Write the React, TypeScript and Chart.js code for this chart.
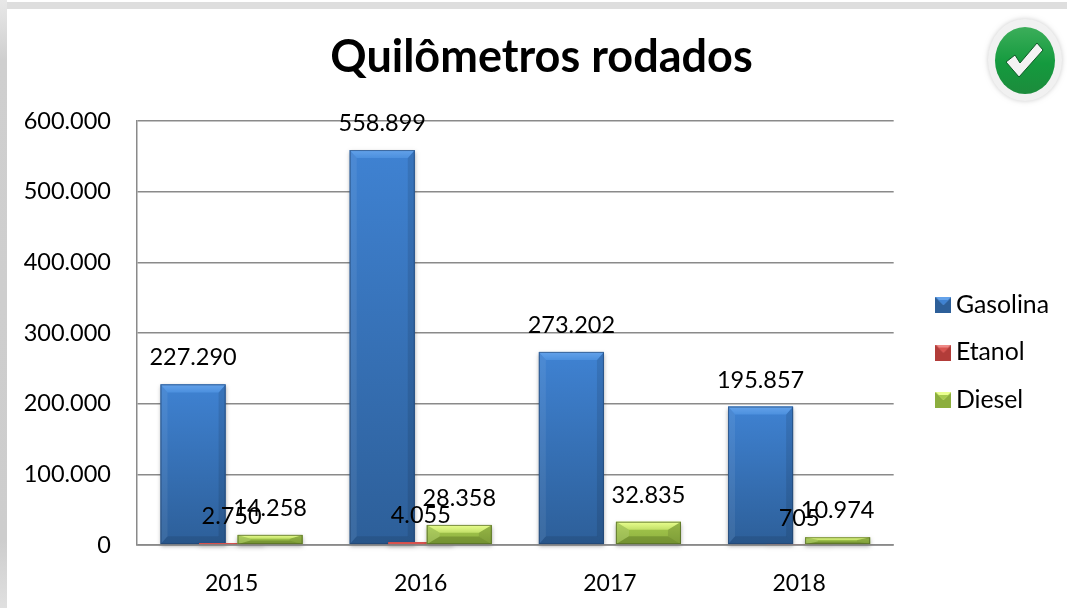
import React, { useEffect, useRef } from "react";
import { Chart, registerables } from "chart.js";

Chart.register(...registerables);

const categories = ["2015", "2016", "2017", "2018"];
const gasolina = [227290, 558899, 273202, 195857];
const etanol = [2750, 4055, null, 705];
const diesel = [14258, 28358, 32835, 10974];
const yTicks = [0, 100000, 200000, 300000, 400000, 500000, 600000];

const FONT = 'Lato, sans-serif';
const OFFSET_X = 7;
const OFFSET_Y = 9;
const PALETTE = [
  { ex: 7, face: ["#3f82d2", "#2d5f99"], top: ["#64a2ea", "#4c90de"], left: "rgba(255,255,255,0.07)", right: "rgba(0,0,0,0.10)", bottom: "rgba(0,0,0,0.10)", edge: "rgba(30,60,100,0.55)" },
  { ex: 7, face: ["#d9534f", "#b23c39"], top: ["#ee8a87", "#e06a66"], left: "rgba(255,255,255,0.07)", right: "rgba(0,0,0,0.10)", bottom: "rgba(0,0,0,0.10)", edge: "rgba(120,30,30,0.55)" },
  { ex: 13, face: ["#a6ca4e", "#8cae3e"], top: ["#eaff90", "#c2e068"], left: "rgba(255,255,255,0.10)", right: "rgba(0,0,0,0.10)", bottom: "rgba(60,80,20,0.30)", edge: "rgba(70,90,30,0.65)" },
];

const fmt = (v: number) => v.toString().replace(/\B(?=(\d{3})+(?!\d))/g, ".");

function poly(c: CanvasRenderingContext2D, pts: number[][], fill: any) {
  c.beginPath();
  pts.forEach(([x, y], i) => (i ? c.lineTo(x, y) : c.moveTo(x, y)));
  c.closePath();
  c.fillStyle = fill;
  c.fill();
}

function bevelBar(c: CanvasRenderingContext2D, l: number, t: number, r: number, b: number, p: typeof PALETTE[0]) {
  const h = b - t;
  c.save();
  c.shadowColor = "rgba(0,0,0,0.35)";
  c.shadowBlur = 4;
  c.shadowOffsetY = 2;
  c.fillStyle = p.face[1];
  c.fillRect(l, t, r - l, h);
  c.restore();
  if (h < 4) {
    c.fillStyle = p.face[0];
    c.fillRect(l, t, r - l, h);
    return;
  }
  const ey = Math.min(8, h * 0.4);
  const ex = p.ex;
  const g = c.createLinearGradient(0, t, 0, b);
  g.addColorStop(0, p.face[0]);
  g.addColorStop(1, p.face[1]);
  c.fillStyle = g;
  c.fillRect(l, t, r - l, h);
  poly(c, [[l, t], [l + ex, t + ey], [l + ex, b - ey], [l, b]], p.left);
  poly(c, [[r, t], [r - ex, t + ey], [r - ex, b - ey], [r, b]], p.right);
  poly(c, [[l, b], [l + ex, b - ey], [r - ex, b - ey], [r, b]], p.bottom);
  const tg = c.createLinearGradient(0, t, 0, t + ey);
  tg.addColorStop(0, p.top[0]);
  tg.addColorStop(1, p.top[1]);
  poly(c, [[l, t], [r, t], [r - ex, t + ey], [l + ex, t + ey]], tg);
  c.strokeStyle = p.edge;
  c.lineWidth = 1;
  c.strokeRect(l + 0.5, t + 0.5, r - l - 1, h - 1);
}

const bevelPlugin = {
  id: "bevel",
  afterLayout(chart: any) {
    chart.legend.left += 27;
    chart.legend.right += 27;
    chart.legend.top += 44;
    chart.legend.bottom += 44;
    chart.titleBlock.left += 22;
    chart.titleBlock.right += 22;
  },
  beforeDatasetsDraw(chart: any) {
    const c = chart.ctx;
    const area = chart.chartArea;
    chart.data.datasets.forEach((_: any, di: number) => {
      const meta = chart.getDatasetMeta(di);
      meta.data.forEach((el: any, i: number) => {
        if (chart.data.datasets[di].data[i] == null) return;
        const { x, y, base, width } = el.getProps(["x", "y", "base", "width"], true);
        bevelBar(c, x - width / 2, y, x + width / 2, base, PALETTE[di]);
      });
    });
    c.beginPath();
    c.moveTo(area.left, area.bottom);
    c.lineTo(area.right, area.bottom);
    c.strokeStyle = "#8a8a8a";
    c.lineWidth = 1.5;
    c.stroke();
    c.fillStyle = "#000";
    c.font = `23.5px ${FONT}`;
    c.textAlign = "center";
    c.textBaseline = "alphabetic";
    chart.data.datasets.forEach((ds: any, di: number) => {
      chart.getDatasetMeta(di).data.forEach((el: any, i: number) => {
        const v = ds.data[i];
        if (v == null) return;
        const { x, y } = el.getProps(["x", "y"], true);
        c.fillText(fmt(v), x, y - 19);
      });
    });
    return false;
  },
};

const legendSwatch = (p: typeof PALETTE[0]) => {
  const cv = document.createElement("canvas");
  cv.width = 16;
  cv.height = 16;
  const c = cv.getContext("2d")!;
  c.fillStyle = p.face[1];
  c.fillRect(0, 0, 16, 16);
  poly(c, [[0, 0], [16, 0], [8, 8]], p.top[0]);
  poly(c, [[3, 3], [13, 3], [8, 8]], p.face[0]);
  return cv;
};

const badgePlugin = {
  id: "badge",
  afterDraw(chart: any) {
    const c = chart.ctx;
    const cx = 1025, cy = 60;
    c.save();
    c.translate(-OFFSET_X, -OFFSET_Y);
    c.save();
    c.shadowColor = "rgba(0,0,0,0.2)";
    c.shadowBlur = 5;
    c.fillStyle = "#f1f1f1";
    c.beginPath();
    c.ellipse(cx, cy, 37, 41, 0, 0, Math.PI * 2);
    c.fill();
    c.restore();
    const g = c.createLinearGradient(0, cy - 33, 0, cy + 33);
    g.addColorStop(0, "#3cae5a");
    g.addColorStop(0.55, "#149a3e");
    g.addColorStop(1, "#1c8c3c");
    c.fillStyle = g;
    c.beginPath();
    c.ellipse(cx, cy + 0.5, 30, 33.5, 0, 0, Math.PI * 2);
    c.fill();
    c.fillStyle = "#f3f3f3";
    c.strokeStyle = "#0c5a26";
    c.lineWidth = 1;
    c.beginPath();
    c.moveTo(1006, 62);
    c.lineTo(1015, 55);
    c.lineTo(1020, 63);
    c.lineTo(1037, 43);
    c.lineTo(1043, 50);
    c.lineTo(1019, 77);
    c.closePath();
    c.fill();
    c.stroke();
    c.restore();
  },
};

export default function App() {
  const ref = useRef<HTMLCanvasElement>(null);
  useEffect(() => {
    const chart = new Chart(ref.current!, {
      type: "bar",
      data: {
        labels: categories,
        datasets: [
          { label: "Gasolina", data: gasolina, backgroundColor: PALETTE[0].face[0] },
          { label: "Etanol", data: etanol, backgroundColor: PALETTE[1].face[0] },
          { label: "Diesel", data: diesel, backgroundColor: PALETTE[2].face[0] },
        ],
      },
      options: {
        animation: false,
        responsive: false,
        devicePixelRatio: 1,
        categoryPercentage: 0.611,
        barPercentage: 1.688,
        layout: { padding: { left: 0, right: 35, top: 0, bottom: 0 } },
        plugins: {
          tooltip: { enabled: false },
          title: {
            display: true,
            text: "Quilômetros rodados",
            color: "#000",
            font: { family: FONT, size: 45, weight: "bold" },
            padding: { top: 21, bottom: 37 },
          },
          legend: {
            position: "right",
            labels: {
              font: { family: FONT, size: 24.8 },
              color: "#000",
              usePointStyle: true,
              pointStyleWidth: 0.1,
              padding: 22.7,
              generateLabels: () =>
                ["Gasolina", "Etanol", "Diesel"].map((t, i) => ({
                  text: t,
                  pointStyle: legendSwatch(PALETTE[i]),
                  datasetIndex: i,
                  fontColor: "#000",
                })),
            },
          },
        },
        scales: {
          x: {
            grid: { display: false },
            border: { display: false },
            ticks: { color: "#000", font: { family: FONT, size: 23 }, padding: 17, maxRotation: 0 },
            afterFit: (s: any) => {
              s.height = 63;
            },
          },
          y: {
            min: 0,
            max: 600000,
            afterBuildTicks: (s: any) => {
              s.ticks = yTicks.map((value) => ({ value }));
            },
            afterFit: (s: any) => {
              s.width = 130;
            },
            grid: { color: "#8a8a8a", lineWidth: 1.5, tickLength: 0 },
            border: { color: "#8a8a8a", width: 1.5 },
            ticks: { color: "#000", font: { family: FONT, size: 23.5 }, padding: 26, callback: (v: any) => fmt(Number(v)) },
          },
        },
      },
      plugins: [bevelPlugin, badgePlugin],
    } as any);
    return () => chart.destroy();
  }, []);
  return (
    <div style={{ position: "fixed", inset: 0, background: "#fff", overflow: "hidden" }}>
      <canvas ref={ref} width={1060} height={599} style={{ position: "absolute", left: OFFSET_X, top: OFFSET_Y, display: "block" }} />
      <div style={{ position: "absolute", left: 0, top: 2, right: 0, height: 7, background: "#dedede" }} />
      <div style={{ position: "absolute", left: 0, top: 0, bottom: 0, width: 7, background: "linear-gradient(180deg,#e8e8e8 0,#cfcfcf 60px,#cdcdcd 540px,#e0e0e0 100%)" }} />
    </div>
  );
}
